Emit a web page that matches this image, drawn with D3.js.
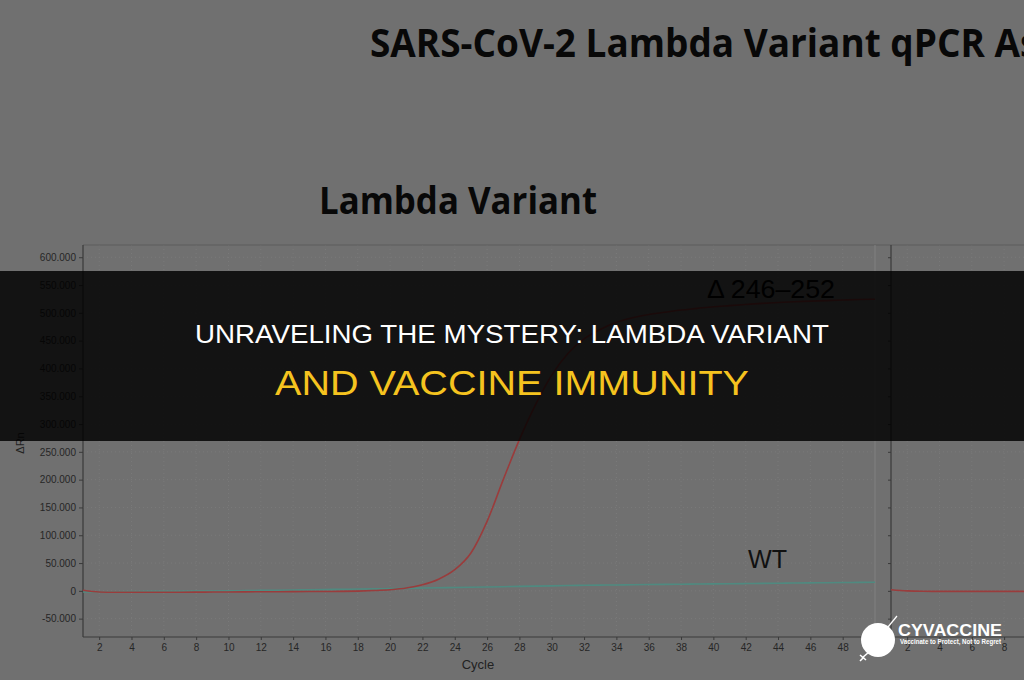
<!DOCTYPE html>
<html><head><meta charset="utf-8">
<script src="https://cdn.jsdelivr.net/npm/d3@7"></script>
<style>html,body{margin:0;padding:0;background:#707070;}svg{display:block;}</style>
</head><body>
<svg id="c" width="1024" height="680"></svg>
<script>
// ---- data ----
const cycles = d3.range(1, 51);
const lambdaValues = [1000,-2000,-2500,-2500,-2500,-2500,-2400,-2300,-2200,-2000,
  -1800,-1600,-1500,-1400,-1300,-1200,-1000,-500,500,2000,
  5000,11000,21000,38000,68000,125000,200000,272000,335000,388000,
  427000,453000,470000,483000,491000,497000,501000,505000,508000,511000,
  513000,515000,517000,518500,520000,521000,522000,523000,524000,524500];
const wtValues = [-2000,-1800,-1500,-1200,-1000,-800,-600,-400,-200,0,
  400,800,1200,1600,2000,2400,2800,3200,3600,4000,
  4500,5000,5500,6000,6500,7000,7500,8000,8500,9000,
  9500,10000,10300,10600,11000,11300,11600,11900,12200,12500,
  12800,13100,13400,13700,14000,14300,14600,14900,15200,15500];
const rightCycles = [1,2,3,4,5,6,7,8,9,10];
const rightValues = [2000,0,-800,-1000,-1000,-1000,-1000,-1000,-1000,-1000];
const yTicks = [-50000,0,50000,100000,150000,200000,250000,300000,350000,400000,450000,500000,550000,600000];
const xTicks = d3.range(2, 50, 2);
const rightXTicks = [2,4,6,8];

const svg = d3.select("#c");
const W = 1024, H = 680;
svg.append("rect").attr("width", W).attr("height", H).attr("fill", "#707070");

const plotTop = 245, plotBottom = 637;
const x = d3.scaleLinear().domain([1, 50]).range([83, 875]);
const xr = d3.scaleLinear().domain([1, 50]).range([891, 891 + 49 * 16.16]);
const y = d3.scaleLinear().domain([-83000, 622000]).range([plotBottom, plotTop]);
const loc = d3.formatLocale({decimal: ",", thousands: ".", grouping: [3], currency: ["", ""], minus: "-"});
const fmt = loc.format(",d");

const chart = svg.append("g");

// grid
const grid = chart.append("g").attr("stroke", "#7a7a7a").attr("stroke-width", 1).attr("stroke-dasharray", "1,3");
grid.selectAll(".gv").data(xTicks).join("line")
  .attr("x1", d => x(d)).attr("x2", d => x(d)).attr("y1", plotTop).attr("y2", plotBottom);
grid.selectAll(".gh").data(yTicks).join("line")
  .attr("x1", 83).attr("x2", 875).attr("y1", d => y(d)).attr("y2", d => y(d));
grid.selectAll(".gvr").data(rightXTicks).join("line")
  .attr("x1", d => xr(d)).attr("x2", d => xr(d)).attr("y1", plotTop).attr("y2", plotBottom);
grid.selectAll(".ghr").data(yTicks).join("line")
  .attr("x1", 891).attr("x2", W).attr("y1", d => y(d)).attr("y2", d => y(d));

// frames
chart.append("line").attr("x1", 83).attr("x2", W).attr("y1", plotTop).attr("y2", plotTop).attr("stroke", "#5c5c5c");
chart.append("line").attr("x1", 875).attr("x2", 875).attr("y1", plotTop).attr("y2", plotBottom).attr("stroke", "#808080");

// axes
const yAxis = d3.axisLeft(y).tickValues(yTicks).tickFormat(fmt).tickSize(4).tickPadding(3);
const gy = chart.append("g").attr("transform", "translate(83,0)").call(yAxis);
const xAxis = d3.axisBottom(x).tickValues(xTicks).tickFormat(d3.format("d")).tickSize(3).tickPadding(4);
const gx = chart.append("g").attr("transform", `translate(0,${plotBottom})`).call(xAxis);
const gyr = chart.append("g").attr("transform", "translate(891,0)").call(d3.axisLeft(y).tickValues(yTicks).tickFormat("").tickSize(3));
const gxr = chart.append("g").attr("transform", `translate(0,${plotBottom})`).call(d3.axisBottom(xr).tickValues(rightXTicks).tickFormat(d3.format("d")).tickSize(3).tickPadding(4));
[gy, gx, gyr, gxr].forEach(g => {
  g.select(".domain").attr("stroke", "#3a3a3a").attr("stroke-width", 1.2);
  g.selectAll(".tick line").attr("stroke", "#3a3a3a");
  g.selectAll("text").attr("fill", "#262626").style("font-family", "Liberation Sans, Arial, sans-serif").style("font-size", "10px");
});
gy.select(".domain").attr("d", `M-0,${plotTop}V${plotBottom}`);
gyr.select(".domain").attr("d", `M-0,${plotTop}V${plotBottom}`);
gx.select(".domain").attr("d", `M83,0H875`);
gxr.select(".domain").attr("d", `M891,0H${W}`);

// clip
svg.append("clipPath").attr("id", "clipL").append("rect").attr("x", 83).attr("y", plotTop).attr("width", 792).attr("height", plotBottom - plotTop);
svg.append("clipPath").attr("id", "clipR").append("rect").attr("x", 891).attr("y", plotTop).attr("width", W - 891).attr("height", plotBottom - plotTop);

const lineL = d3.line().x((d, i) => x(cycles[i])).y(d => y(d)).curve(d3.curveMonotoneX);
const lineR = d3.line().x((d, i) => xr(rightCycles[i])).y(d => y(d)).curve(d3.curveMonotoneX);
chart.append("path").attr("clip-path", "url(#clipL)").attr("d", lineL(wtValues))
  .attr("fill", "none").attr("stroke", "#4f8a80").attr("stroke-width", 1.6);
chart.append("path").attr("clip-path", "url(#clipL)").attr("d", lineL(lambdaValues))
  .attr("fill", "none").attr("stroke", "#9a3c3c").attr("stroke-width", 1.6);
chart.append("path").attr("clip-path", "url(#clipR)").attr("d", lineR(rightValues))
  .attr("fill", "none").attr("stroke", "#9a3c3c").attr("stroke-width", 1.6);

// labels
chart.append("text").attr("x", 478).attr("y", 669).attr("text-anchor", "middle")
  .style("font-family", "Liberation Sans, Arial, sans-serif").style("font-size", "13px").attr("fill", "#222").text("Cycle");
chart.append("text").attr("transform", "translate(24,443) rotate(-90)").attr("text-anchor", "middle")
  .style("font-family", "Liberation Sans, Arial, sans-serif").style("font-size", "11px").attr("fill", "#222").text("ΔRn");

chart.append("text").attr("x", 370).attr("y", 57)
  .style("font-family", "Open Sans, Liberation Sans, sans-serif").style("font-weight", "700").style("font-size", "40px")
  .attr("textLength", 730).attr("lengthAdjust", "spacingAndGlyphs").attr("fill", "#080808")
  .text("SARS-CoV-2 Lambda Variant qPCR Assay");
chart.append("text").attr("x", 319).attr("y", 214)
  .style("font-family", "Open Sans, Liberation Sans, sans-serif").style("font-weight", "700").style("font-size", "38px")
  .attr("textLength", 278).attr("lengthAdjust", "spacingAndGlyphs").attr("fill", "#080808")
  .text("Lambda Variant");
chart.append("text").attr("x", 707).attr("y", 298)
  .style("font-family", "Liberation Sans Narrow, Liberation Sans, sans-serif").style("font-size", "26px")
  .attr("textLength", 128).attr("lengthAdjust", "spacingAndGlyphs").attr("fill", "#000")
  .text("Δ 246–252");
chart.append("text").attr("x", 748).attr("y", 568)
  .style("font-family", "Liberation Sans, Arial, sans-serif").style("font-size", "26px")
  .attr("textLength", 39).attr("lengthAdjust", "spacingAndGlyphs").attr("fill", "#111")
  .text("WT");

// banner (dark translucent band over the chart)
svg.append("rect").attr("x", 0).attr("y", 271).attr("width", W).attr("height", 170)
  .attr("fill", "#000").attr("fill-opacity", 0.83);
svg.append("text").attr("x", 195).attr("y", 343)
  .style("font-family", "Liberation Sans, Arial, sans-serif").style("font-size", "26.5px")
  .attr("textLength", 634).attr("lengthAdjust", "spacingAndGlyphs").attr("fill", "#ffffff")
  .text("UNRAVELING THE MYSTERY: LAMBDA VARIANT");
svg.append("text").attr("x", 275).attr("y", 395)
  .style("font-family", "Liberation Sans, Arial, sans-serif").style("font-size", "35px")
  .attr("textLength", 474).attr("lengthAdjust", "spacingAndGlyphs").attr("fill", "#f5c31f")
  .text("AND VACCINE IMMUNITY");

// logo
const logo = svg.append("g");
logo.append("circle").attr("cx", 878).attr("cy", 640).attr("r", 17).attr("fill", "#fff");
logo.append("line").attr("x1", 888).attr("y1", 627).attr("x2", 897).attr("y2", 616).attr("stroke", "#fff").attr("stroke-width", 1.2);
logo.append("path").attr("d", "M869,652 L862,658 M860,655 L866,660 M864,657 L860,661").attr("stroke", "#fff").attr("stroke-width", 1.6).attr("fill", "none");
logo.append("text").attr("x", 898).attr("y", 636)
  .style("font-family", "Liberation Sans, Arial, sans-serif").style("font-weight", "700").style("font-size", "17px")
  .attr("textLength", 104).attr("lengthAdjust", "spacingAndGlyphs").attr("fill", "#fff").text("CYVACCINE");
logo.append("text").attr("x", 900).attr("y", 644)
  .style("font-family", "Liberation Sans, Arial, sans-serif").style("font-weight", "700").style("font-size", "6.5px")
  .attr("textLength", 101).attr("lengthAdjust", "spacingAndGlyphs").attr("fill", "#fff").text("Vaccinate to Protect, Not to Regret");
</script>
</body></html>
